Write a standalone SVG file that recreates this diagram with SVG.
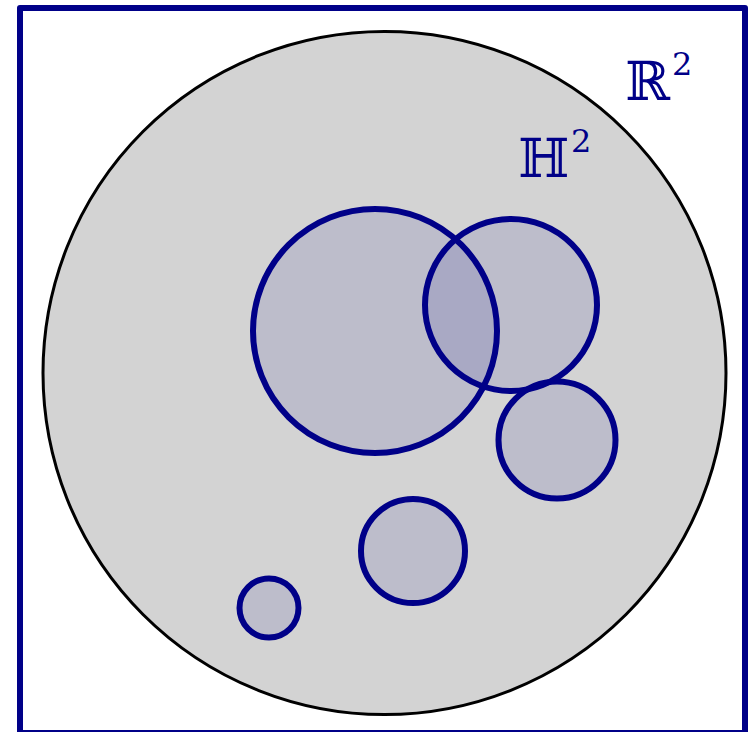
<svg xmlns="http://www.w3.org/2000/svg" width="752" height="732" viewBox="0 0 752 732">
<style>
.disk{fill:#000088;fill-opacity:0.1;stroke:#000088;stroke-width:6}
.lbl{fill:#000088;font-family:"DejaVu Serif","Liberation Serif",serif}
</style>
<rect x="0" y="0" width="752" height="732" fill="#ffffff"/>
<g id="plane">
<rect x="20" y="8" width="725" height="725" fill="#ffffff" stroke="#000088" stroke-width="6" stroke-linejoin="round"/>
<text class="lbl" x="625" y="100" font-size="54">ℝ<tspan font-size="32" dy="-25" dx="2">2</tspan></text>
</g>
<g id="hyperbolic">
<circle cx="384.5" cy="373" r="341.5" fill="#d3d3d3" stroke="#000000" stroke-width="3"/>
<text class="lbl" x="518" y="177" font-size="54">ℍ<tspan font-size="32" dy="-25" dx="2">2</tspan></text>
</g>
<g id="disk1"><circle class="disk" cx="375" cy="331" r="122"/></g>
<g id="disk2"><circle class="disk" cx="511" cy="305" r="86"/></g>
<g id="disk3"><circle class="disk" cx="557" cy="440" r="58.5"/></g>
<g id="disk4"><circle class="disk" cx="413" cy="551" r="52"/></g>
<g id="disk5"><circle class="disk" cx="269" cy="608" r="29.5"/></g>
</svg>
